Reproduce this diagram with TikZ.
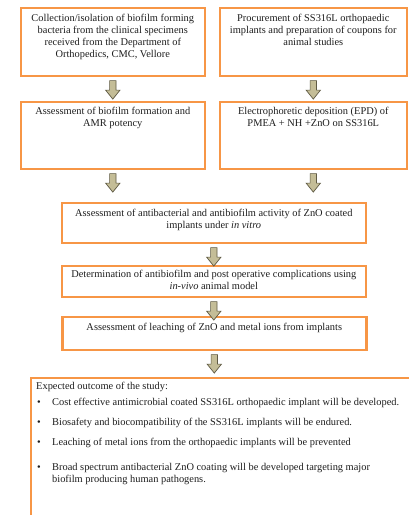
\documentclass[tikz,border=0pt]{standalone}
\usepackage{fontspec}
\setmainfont{Liberation Serif}
\usetikzlibrary{calc}
\definecolor{boxorange}{HTML}{F79646}
\definecolor{arrfill}{HTML}{C4BD97}
\definecolor{arrline}{HTML}{5F5A44}
\definecolor{txt}{HTML}{1E1E1E}
\tikzset{
  box/.style={draw=boxorange, line width=2.6pt, fill=white, inner sep=0pt, anchor=north west},
  btext/.style={anchor=north, inner sep=0pt, align=center, font=\fontsize{10.4}{12.3}\selectfont, text=txt},
  ltext/.style={anchor=base west, inner sep=0pt, font=\fontsize{10.4}{12.3}\selectfont, text=txt},
  blk/.style={fill=arrfill, draw=arrline, line width=0.7pt, line join=miter}
}
\newcommand\blockarr[2]{%
  \draw[blk] let \p1=(#1.south), \p2=(#2.north) in
    (\x1-3.2pt,\y1-3.5pt) -- (\x1+3.2pt,\y1-3.5pt) -- (\x1+3.2pt,\y1-13pt) --
    (\x1+7.2pt,\y1-13pt) -- (\x1,\y1-22pt) -- (\x1-7.2pt,\y1-13pt) --
    (\x1-3.2pt,\y1-13pt) -- cycle;}
\begin{document}
\begin{tikzpicture}[x=1pt,y=-1pt]
\clip (0,0) rectangle (409,515);
\fill[white] (0,0) rectangle (409,515);
% boxes
\node[box, minimum width=184pt, minimum height=68pt] (b1) at (19.5,6.5) {};
\node[box, minimum width=187pt, minimum height=68pt] (b2) at (218.5,6.5) {};
\node[box, minimum width=184pt, minimum height=67pt] (b3) at (19.5,100.5) {};
\node[box, minimum width=187pt, minimum height=67pt] (b4) at (218.5,100.5) {};
\node[box, minimum width=304pt, minimum height=40pt] (b5) at (60.5,201.5) {};
\node[box, minimum width=304pt, minimum height=31pt] (b6) at (60.5,264.5) {};
\node[box, minimum width=304pt, minimum height=33pt] (b7) at (61,315.5) {};
\node[box, minimum width=420pt, minimum height=200pt] (b8) at (29.5,376.5) {};
% texts
\node[btext] (t1) at ($(b1.north)+(0,7)$) {Collection/isolation of biofilm forming\\bacteria from the clinical specimens\\received from the Department of\\Orthopedics, CMC, Vellore};
\node[btext] (t2) at ($(b2.north)+(0,7)$) {Procurement of SS316L orthopaedic\\implants and preparation of coupons for\\animal studies};
\node[btext] (t3) at ($(b3.north)+(0,6)$) {Assessment of biofilm formation and\\AMR potency};
\node[btext] (t4) at ($(b4.north)+(0,6)$) {Electrophoretic deposition (EPD) of\\PMEA + NH +ZnO on SS316L};
\node[btext] (t5) at ($(b5.north)+(0,7)$) {Assessment of antibacterial and antibiofilm activity of ZnO coated\\implants under \textit{in vitro}};
\node[btext] (t6) at ($(b6.north)+(0,5)$) {Determination of antibiofilm and post operative complications using\\\textit{in-vivo} animal model};
\node[btext] (t7) at ($(b7.north)+(0,7)$) {Assessment of leaching of ZnO and metal ions from implants};
% outcome text
\node[ltext] (o0) at (36,389.5) {Expected outcome of the study:};
\node[ltext] (p1) at (37,405.5) {•};
\node[ltext] (o1) at (52,405.5) {Cost effective antimicrobial coated SS316L orthopaedic implant will be developed.};
\node[ltext] (p2) at (37,425.5) {•};
\node[ltext] (o2) at (52,425.5) {Biosafety and biocompatibility of the SS316L implants will be endured.};
\node[ltext] (p3) at (37,445.5) {•};
\node[ltext] (o3) at (52,445.5) {Leaching of metal ions from the orthopaedic implants will be prevented};
\node[ltext] (p4) at (37,470) {•};
\node[ltext] (o4) at (52,470) {Broad spectrum antibacterial ZnO coating will be developed targeting major};
\node[ltext] (o5) at (52,482.5) {biofilm producing human pathogens.};
% arrows
\blockarr{b1}{b3}
\blockarr{b2}{b4}
\blockarr{b3}{b5}
\blockarr{b4}{b5}
\blockarr{b5}{b6}
\blockarr{b6}{b7}
\blockarr{b7}{b8}
\end{tikzpicture}
\end{document}
